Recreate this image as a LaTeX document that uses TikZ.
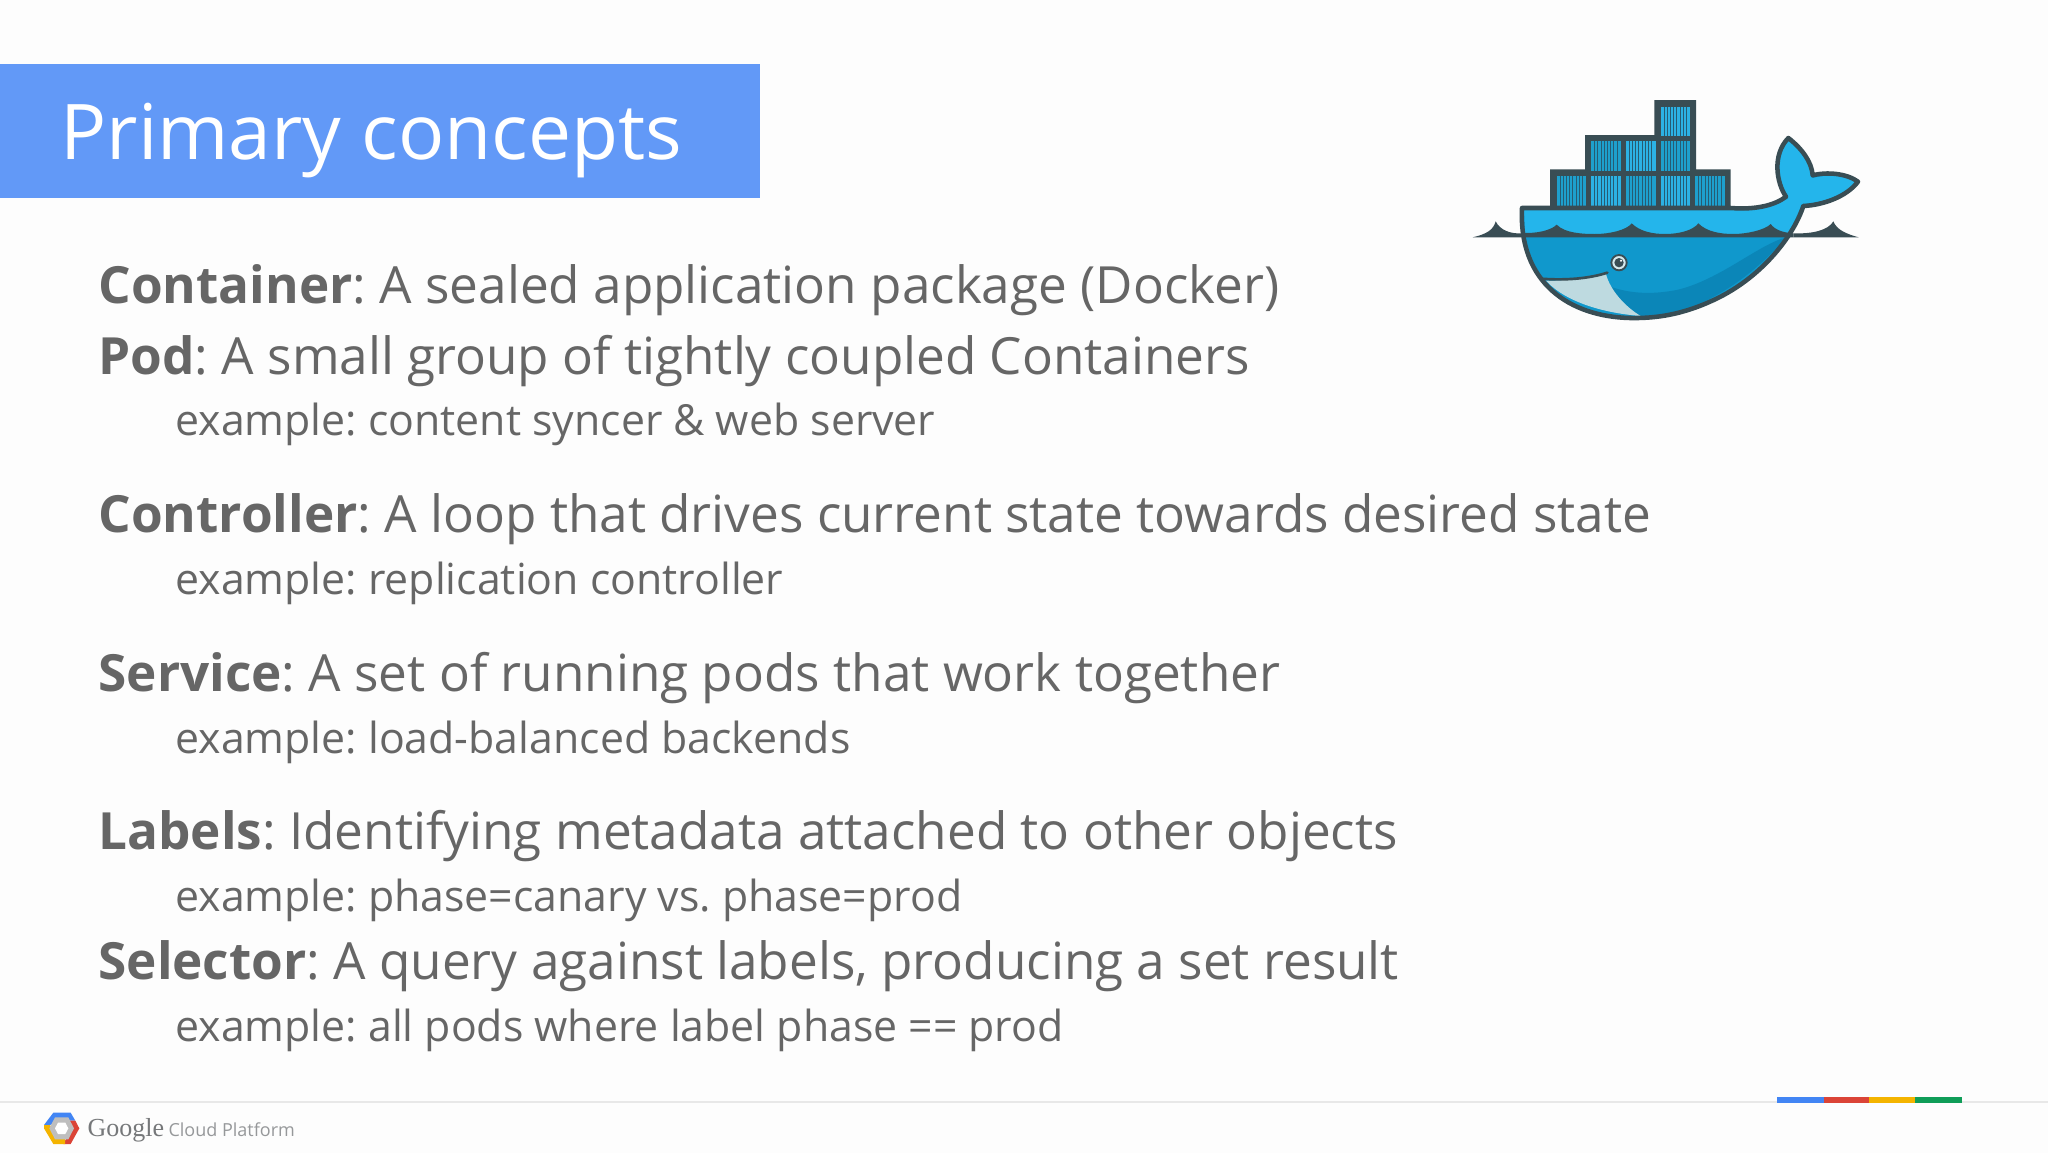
\documentclass[tikz,border=0pt]{standalone}
\usepackage{fontspec}
\setmainfont{Open Sans}
\newfontfamily\googlefont{Liberation Serif}
\frenchspacing
\tikzset{every picture/.style={line width=0.75pt}}
\tikzset{
  headline/.style={anchor=base west,inner sep=0pt,text={rgb, 255:red, 102; green, 102; blue, 102 },font=\fontsize{38.45}{44}\selectfont},
  exampleline/.style={anchor=base west,inner sep=0pt,text={rgb, 255:red, 102; green, 102; blue, 102 },font=\fontsize{32.1}{36}\selectfont},
  darkpart/.style={fill={rgb, 255:red, 57; green, 77; blue, 84 }},
  whaleline/.style={draw={rgb, 255:red, 57; green, 77; blue, 84 },line width=3.4pt,line join=round},
  crate/.style={draw={rgb, 255:red, 57; green, 77; blue, 84 },line width=0.5pt,fill={rgb, 255:red, 30; green, 160; blue, 205 },
    path picture={\foreach \i in {0,...,7}{\draw [draw={rgb, 255:red, 38; green, 92; blue, 115 },line width=0.7pt] ([xshift=\i*2.4pt+3pt,yshift=3.2pt]path picture bounding box.south west) -- ([xshift=\i*2.4pt+3pt,yshift=-3.2pt]path picture bounding box.north west) ;}}},
  cratelight/.style={crate,fill={rgb, 255:red, 44; green, 178; blue, 228 }},
}
\begin{document}
\begin{tikzpicture}[x=0.75pt,y=0.75pt,yscale=-1,xscale=1]
	\useasboundingbox (0,0) rectangle (2048,1153);

	%Shape: Rectangle [background]
	\fill [fill={rgb, 255:red, 253; green, 253; blue, 253 }] (0,0) -- (2048,0) -- (2048,1153) -- (0,1153) -- cycle ;
	%Shape: Rectangle [title bar]
	\fill [fill={rgb, 255:red, 98; green, 153; blue, 247 }] (0,64) -- (760,64) -- (760,198) -- (0,198) -- cycle ;

	%Text: title
	\node (title) [anchor=base west,inner sep=0pt,text=white,font=\fontsize{57.6}{66}\selectfont] at (60,159) {Primary concepts};

	%Text: concepts
	\node (container) [headline] at (98,303) {\textbf{Container}: A sealed application package (Docker)};
	\node (pod) [headline] at (98,374) {\textbf{Pod}: A small group of tightly coupled Containers};
	\node (podexample) [exampleline] at (175,435) {example: content syncer \& web server};
	\node (controller) [headline] at (98,532) {\textbf{Controller}: A loop that drives current state towards desired state};
	\node (controllerexample) [exampleline] at (175,594) {example: replication controller};
	\node (service) [headline] at (98,691) {\textbf{Service}: A set of running pods that work together};
	\node (serviceexample) [exampleline] at (175,753) {example: load-balanced backends};
	\node (labels) [headline] at (98,849) {\textbf{Labels}: Identifying metadata attached to other objects};
	\node (labelsexample) [exampleline] at (175,911) {example: phase=canary vs. phase=prod};
	\node (selector) [headline] at (98,979) {\textbf{Selector}: A query against labels, producing a set result};
	\node (selectorexample) [exampleline] at (175,1041) {example: all pods where label phase == prod};

	%Whale, drawn in the coordinates of a 3x crop
	\begin{scope}[shift={(1450,80)},x=0.25pt,y=0.25pt]
		%Shape: Container stack
		\fill [darkpart] (300,268) -- (405,268) -- (405,165) -- (613,165) -- (613,60) -- (738,60) -- (738,268) -- (842,268) -- (842,385) -- (300,385) -- cycle ;
		\draw [crate] (318,286) -- (410,286) -- (410,378) -- (318,378) -- cycle ;
		\draw [cratelight] (422,286) -- (514,286) -- (514,378) -- (422,378) -- cycle ;
		\draw [crate] (526,286) -- (618,286) -- (618,378) -- (526,378) -- cycle ;
		\draw [cratelight] (630,286) -- (722,286) -- (722,378) -- (630,378) -- cycle ;
		\draw [crate] (734,286) -- (826,286) -- (826,378) -- (734,378) -- cycle ;
		\draw [crate] (422,182) -- (514,182) -- (514,274) -- (422,274) -- cycle ;
		\draw [cratelight] (526,182) -- (618,182) -- (618,274) -- (526,274) -- cycle ;
		\draw [crate] (630,182) -- (722,182) -- (722,274) -- (630,274) -- cycle ;
		\draw [cratelight] (630,78) -- (722,78) -- (722,170) -- (630,170) -- cycle ;

		%Shape: Water left
		\fill [darkpart] (68,472) .. controls (110,462) and (130,450) .. (137,424) .. controls (150,450) and (180,462) .. (215,460) -- (215,472) -- cycle ;
		%Shape: Water right
		\fill [darkpart] (1030,460) .. controls (1090,462) and (1135,450) .. (1150,424) .. controls (1160,450) and (1190,462) .. (1226,472) -- (1030,472) -- cycle ;

		%Shape: Hull and tail
		\fill [fill={rgb, 255:red, 16; green, 152; blue, 204 }] (216,384) -- (842,384) .. controls (920,390) and (975,375) .. (1008,350) .. controls (980,310) and (965,225) .. (1015,174) .. controls (1055,205) and (1085,245) .. (1088,286) .. controls (1130,275) and (1190,280) .. (1224,305) .. controls (1190,350) and (1120,375) .. (1060,378) .. controls (1030,470) and (930,600) .. (780,665) .. controls (680,710) and (600,715) .. (540,714) .. controls (360,710) and (205,610) .. (216,384) -- cycle ;

		%Shape: Light band on deck
		\fill [fill={rgb, 255:red, 36; green, 181; blue, 235 }] (222,390) -- (842,390) .. controls (920,395) and (975,380) .. (1015,355) .. controls (985,310) and (973,235) .. (1015,183) .. controls (1050,210) and (1080,250) .. (1086,295) .. controls (1130,282) and (1185,285) .. (1215,305) .. controls (1190,345) and (1120,368) .. (1055,372) .. controls (1040,410) and (1025,440) .. (1010,465) -- (225,465) -- cycle ;

		%Shape: Scalloped waves
		\fill [darkpart] (215,458) .. controls (260,462) and (305,450) .. (320,434) .. controls (345,460) and (400,462) .. (435,462) .. controls (480,462) and (530,450) .. (545,430) .. controls (570,455) and (610,462) .. (645,462) .. controls (690,462) and (730,450) .. (745,430) .. controls (770,455) and (810,462) .. (850,462) .. controls (890,462) and (945,450) .. (962,432) .. controls (975,450) and (1000,458) .. (1030,460) -- (1030,472) -- (215,472) -- cycle ;

		%Shape: Darker belly
		\fill [fill={rgb, 255:red, 11; green, 134; blue, 184 }] (1010,472) .. controls (930,490) and (810,600) .. (680,630) .. controls (600,645) and (540,640) .. (480,620) .. controls (510,660) and (540,690) .. (572,708) .. controls (700,712) and (860,640) .. (1010,472) -- cycle ;
		%Shape: Mouth
		\fill [fill={rgb, 255:red, 190; green, 218; blue, 224 }] (288,602) .. controls (350,602) and (420,595) .. (468,582) .. controls (480,630) and (525,680) .. (572,708) .. controls (470,700) and (350,670) .. (288,602) -- cycle ;
		%Shape: Mouth line
		\draw [draw={rgb, 255:red, 57; green, 77; blue, 84 },line width=2pt,line cap=round] (272,596) .. controls (350,602) and (420,595) .. (472,578) ;

		%Shape: Eye
		\draw [draw={rgb, 255:red, 57; green, 77; blue, 84 },line width=1.4pt,fill={rgb, 255:red, 214; green, 234; blue, 238 }] (507,548) circle (23) ;
		\fill [darkpart] (507,548) circle (14) ;
		\fill [fill=white] (513,542) circle (3.5) ;

		%Shape: Outline
		\draw [whaleline] (216,384) -- (842,384) .. controls (920,390) and (975,375) .. (1008,350) .. controls (980,310) and (965,225) .. (1015,174) .. controls (1055,205) and (1085,245) .. (1088,286) .. controls (1130,275) and (1190,280) .. (1224,305) .. controls (1190,350) and (1120,375) .. (1060,378) .. controls (1030,470) and (930,600) .. (780,665) .. controls (680,710) and (600,715) .. (540,714) .. controls (360,710) and (205,610) .. (216,384) -- cycle ;
	\end{scope}

	%Logo, drawn in the coordinates of a 3x crop
	\begin{scope}[shift={(0,1080)},x=0.25pt,y=0.25pt]
		%Shape: Hexagon
		\fill [fill={rgb, 255:red, 66; green, 133; blue, 244 }] (132,135) -- (160,98) -- (212,98) -- (226,122) -- (185,122) -- (150,135) -- cycle ;
		\fill [fill={rgb, 255:red, 219; green, 68; blue, 55 }] (226,122) -- (238,145) -- (212,192) -- (190,192) -- (215,145) -- (205,122) -- cycle ;
		\fill [fill={rgb, 255:red, 244; green, 180; blue, 0 }] (132,135) -- (150,135) -- (172,170) -- (195,170) -- (195,192) -- (160,192) -- (132,145) -- cycle ;
		\fill [fill={rgb, 255:red, 190; green, 190; blue, 190 }] (165,112) -- (205,112) -- (222,145) -- (205,178) -- (165,178) -- (148,145) -- cycle ;
		\fill [fill=white] (174,128) -- (196,128) -- (205,145) -- (196,162) -- (174,162) -- (165,145) -- cycle ;
	\end{scope}

	%Text: logo
	\node (google) [anchor=base west,inner sep=0pt,text={rgb, 255:red, 118; green, 120; blue, 122 },font=\googlefont\fontsize{19.5}{24}\selectfont] at (87,1136) {Google};
	\node (cloudplatform) [anchor=base west,inner sep=0pt,text={rgb, 255:red, 150; green, 152; blue, 154 },font=\fontsize{13.5}{16}\selectfont] at (168,1136) {Cloud Platform};

	%Straight Lines: footer rule
	\draw [draw={rgb, 255:red, 232; green, 232; blue, 232 },line width=1.2pt] (0,1102) -- (2048,1102) ;
	%Shape: Rectangle [colour bar]
	\fill [fill={rgb, 255:red, 66; green, 133; blue, 244 }] (1777,1097) -- (1824,1097) -- (1824,1103) -- (1777,1103) -- cycle ;
	\fill [fill={rgb, 255:red, 219; green, 68; blue, 55 }] (1824,1097) -- (1869,1097) -- (1869,1103) -- (1824,1103) -- cycle ;
	\fill [fill={rgb, 255:red, 244; green, 180; blue, 0 }] (1869,1097) -- (1915,1097) -- (1915,1103) -- (1869,1103) -- cycle ;
	\fill [fill={rgb, 255:red, 15; green, 157; blue, 88 }] (1915,1097) -- (1962,1097) -- (1962,1103) -- (1915,1103) -- cycle ;
\end{tikzpicture}
\end{document}
